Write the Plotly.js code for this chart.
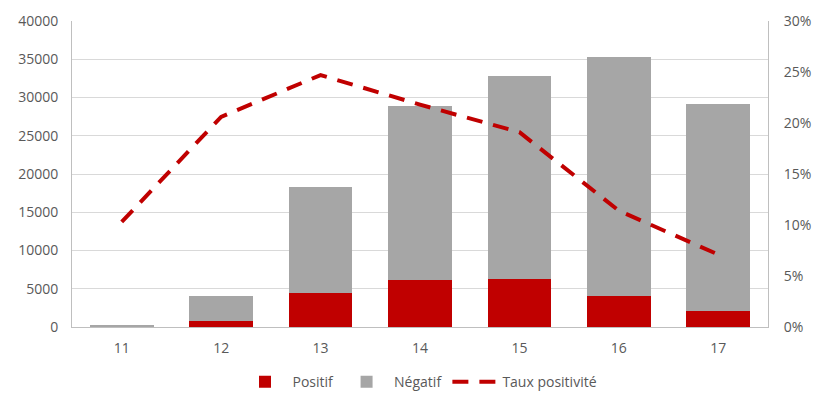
<!DOCTYPE html>
<html>
<head>
<meta charset="utf-8">
<script src="https://cdn.plot.ly/plotly-3.0.1.min.js"></script>
<style>html,body{margin:0;padding:0;background:#fff;}#chart{width:814px;height:394px;}</style>
</head>
<body>
<div id="chart"></div>
<script>
const categories = ["11", "12", "13", "14", "15", "16", "17"];
const positif = [26, 800, 4450, 6150, 6270, 4050, 2090];
const negatif = [224, 3300, 13850, 22750, 26530, 31250, 27060];
const tauxPositivite = [0.103, 0.206, 0.247, 0.218, 0.191, 0.114, 0.071];

const red = "#c00000";
const grey = "#a6a6a6";
const textColor = "#595959";

const traces = [
  {type: "bar", name: "Positif", x: categories, y: positif, marker: {color: red}, width: 0.64, hoverinfo: "x+y"},
  {type: "bar", name: "Négatif", x: categories, y: negatif, marker: {color: grey}, width: 0.64, hoverinfo: "x+y"},
  {type: "scatter", mode: "lines", name: "Taux positivité", x: categories, y: tauxPositivite, yaxis: "y2",
   line: {color: red, width: 4, dash: "16px,11px"}}
];

const layout = {
  width: 814, height: 394,
  margin: {l: 72, r: 46, t: 21, b: 67, autoexpand: false},
  barmode: "stack",
  paper_bgcolor: "#fff", plot_bgcolor: "#fff",
  font: {family: "Open Sans, sans-serif", size: 14, color: textColor},
  showlegend: true,
  legend: {orientation: "h", x: 0.5, xanchor: "center", y: -0.18, yanchor: "middle", yref: "paper",
    font: {size: 14, color: textColor}, traceorder: "normal", itemwidth: 45},
  xaxis: {type: "category", showgrid: false, showline: true, linecolor: "#bfbfbf", linewidth: 1,
    ticks: "", tickfont: {size: 14, color: textColor}, ticklabelstandoff: 8, automargin: false},
  yaxis: {range: [0, 40000], dtick: 5000, showgrid: true, gridcolor: "#d9d9d9", gridwidth: 1,
    showline: true, linecolor: "#bfbfbf", ticks: "", tickfont: {size: 14, color: textColor},
    ticklabelstandoff: 10, zeroline: false, tickformat: "d", automargin: false},
  yaxis2: {overlaying: "y", side: "right", range: [0, 0.3], dtick: 0.05, tickformat: ".0%",
    showgrid: false, showline: true, linecolor: "#bfbfbf", ticks: "", zeroline: false,
    tickfont: {size: 14, color: textColor}, ticklabelstandoff: 12, automargin: false}
};

Plotly.newPlot("chart", traces, layout, {displayModeBar: false, staticPlot: true});
</script>
</body>
</html>
